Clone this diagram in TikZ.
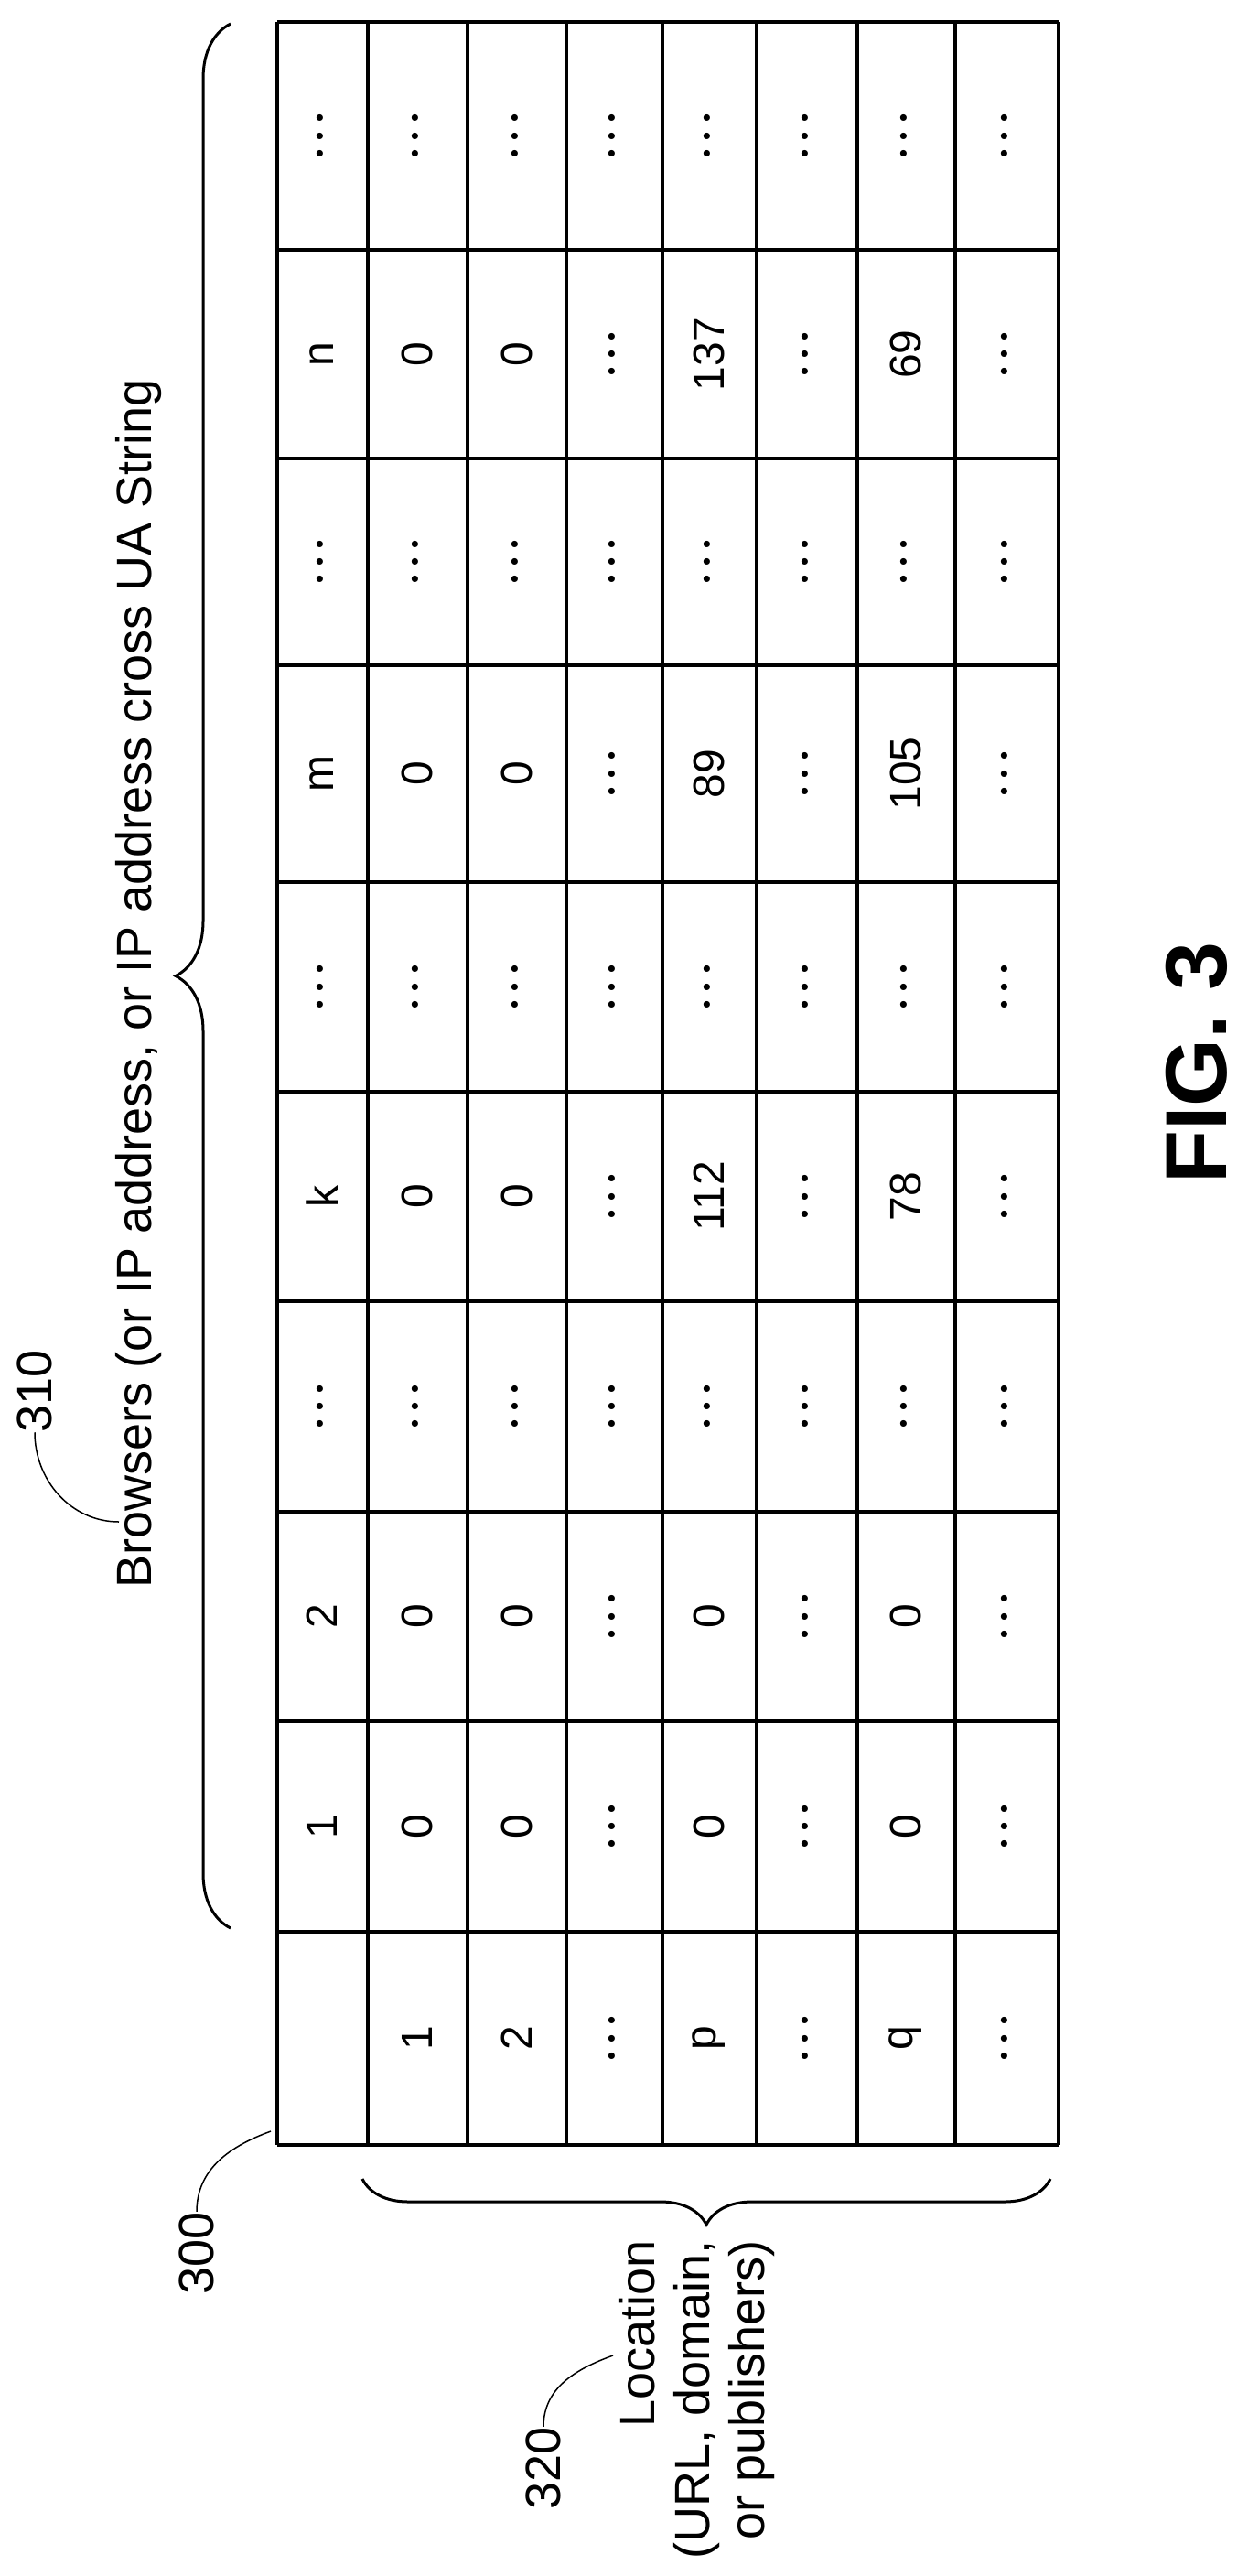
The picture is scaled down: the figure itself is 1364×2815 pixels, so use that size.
\documentclass[tikz,border=0pt]{standalone}
\usepackage{fontspec}
\setmainfont{Liberation Sans}
\usetikzlibrary{decorations.pathreplacing}
\tikzset{
  cella/.style={rotate=90,font=\fontsize{48}{48}\selectfont,inner sep=0pt},
  etichetta/.style={rotate=90,font=\fontsize{54}{60}\selectfont,inner sep=0pt},
  graffa/.style={line width=3pt,decorate},
  richiamo/.style={line width=1.5pt}
}
\newcommand{\pnt}{{\fontsize{26}{26}\selectfont\textbullet\hspace{10pt}\textbullet\hspace{10pt}\textbullet}}
\begin{document}
\begin{tikzpicture}[x=1pt,y=-1pt]
        \useasboundingbox (0,0) rectangle (1364,2815);
        %%%%%%%%%% Griglia %%%%%%%%%%
        \def\xs{303,402,511,619,724,827,937,1044,1157}
        \def\ys{24,273,501,727,964,1193,1422,1652,1881,2111,2344}
        \foreach \x in \xs {\draw[line width=4pt] (\x,24) -- (\x,2344);}
        \foreach \y in \ys {\draw[line width=4pt] (303,\y) -- (1157,\y);}

        %%%%%%%%%% Celle %%%%%%%%%%
        % righe: ascissa centrale e contenuto (dal basso verso l'alto)
        \foreach \r/\cx/\vals in {
            0/352/{,1,2,\pnt,k,\pnt,m,\pnt,n,\pnt},
            1/456/{1,0,0,\pnt,0,\pnt,0,\pnt,0,\pnt},
            2/565/{2,0,0,\pnt,0,\pnt,0,\pnt,0,\pnt},
            3/671/{\pnt,\pnt,\pnt,\pnt,\pnt,\pnt,\pnt,\pnt,\pnt,\pnt},
            4/775/{p,0,0,\pnt,112,\pnt,89,\pnt,137,\pnt},
            5/882/{\pnt,\pnt,\pnt,\pnt,\pnt,\pnt,\pnt,\pnt,\pnt,\pnt},
            6/990/{q,0,0,\pnt,78,\pnt,105,\pnt,69,\pnt},
            7/1100/{\pnt,\pnt,\pnt,\pnt,\pnt,\pnt,\pnt,\pnt,\pnt,\pnt}} {
          \foreach \v [count=\c from 0,
                       evaluate=\c as \cy using {(\c==0)*2227.5+(\c==1)*1996+(\c==2)*1766.5+(\c==3)*1537+(\c==4)*1307.5+(\c==5)*1078.5+(\c==6)*845.5+(\c==7)*614+(\c==8)*387+(\c==9)*148.5}] in \vals {
            \node[cella] (c-\r-\c) at (\cx,\cy) {\v};
          }
        }

        %%%%%%%%% Graffe %%%%%%%%%
        \draw[graffa,decoration={brace,amplitude=60pt}] (252,2107) -- (252,26);
        \draw[graffa,decoration={brace,amplitude=50pt}] (1148,2381) -- (396,2381);

        %%%%%%%%% Testi %%%%%%%%%
        \node[etichetta] (browser) at (152,1075) {Browsers (or IP address, or IP address cross UA String};
        \node[etichetta,align=right,anchor=east] (luogo) at (762,2448) {Location\\(URL, domain,\\or publishers)};
        \node[etichetta] (n310) at (38,1520) {310};
        \node[etichetta] (n300) at (215,2462) {300};
        \node[etichetta] (n320) at (594,2697) {320};
        \node[rotate=90,font=\fontsize{95}{95}\selectfont\bfseries,inner sep=0pt] (fig) at (1308,1162) {FIG. 3};

        %%%%%%%%% Richiami %%%%%%%%%
        \coordinate (p310) at (130,1663);
        \coordinate (p300) at (296,2329);
        \coordinate (p320) at (670,2574);
        \draw[richiamo] (n310.west) to[out=-90,in=180] (p310);
        \draw[richiamo] (n300.east) to[out=90,in=200] (p300);
        \draw[richiamo] (n320.east) to[out=90,in=200] (p320);
    \end{tikzpicture}
\end{document}
